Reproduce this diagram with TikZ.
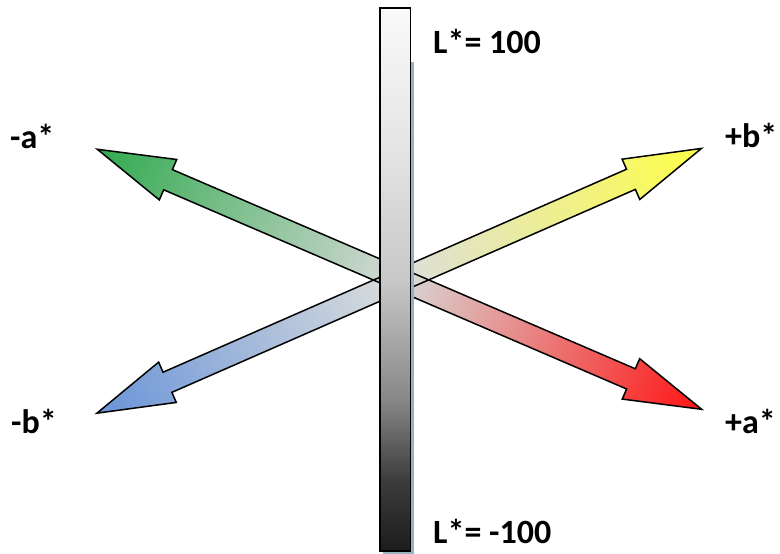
\documentclass[tikz,border=0pt]{standalone}
\usepackage{fontspec}
\setmainfont{Carlito}
\definecolor{cgreen}{RGB}{50,170,80}
\definecolor{cred}{RGB}{255,20,20}
\definecolor{cyellow}{RGB}{255,255,40}
\definecolor{cblue}{RGB}{80,130,210}
\definecolor{cmid}{RGB}{215,217,215}
\definecolor{cshadow}{RGB}{150,180,192}
\definecolor{cbartop}{RGB}{250,250,250}
\definecolor{cbar150}{RGB}{228,228,228}
\definecolor{cbarmid}{RGB}{200,200,200}
\definecolor{cbar400}{RGB}{135,135,135}
\definecolor{cbar480}{RGB}{60,60,60}
\definecolor{cbarbot}{RGB}{28,28,28}
\pgfdeclareverticalshading{barshade}{100bp}{%
  color(0bp)=(cbarbot); color(25bp)=(cbarbot); color(31.5bp)=(cbar480);
  color(38.9bp)=(cbar400); color(50bp)=(cbarmid); color(61.9bp)=(cbar150);
  color(75bp)=(cbartop); color(100bp)=(cbartop)}
\begin{document}
\begin{tikzpicture}[x=1pt,y=-1pt,
  lab/.style={inner sep=0pt, anchor=base west, font=\fontsize{34}{40}\selectfont\bfseries},
  arrowline/.style={draw=black, line width=1.5pt, line join=miter}]
\useasboundingbox (0,0) rectangle (780,554);
\fill[white] (0,0) rectangle (780,554);
% arrow 1: green to red
\begin{scope}[transform canvas={shift={(399.5,279.3)}, rotate=-23.28}]
  \path[left color=cgreen, right color=cred, middle color=cmid]
    (-329,0) -- (-252,22) -- (-252,11) -- (252,11) -- (252,22) -- (329,0)
    -- (252,-22) -- (252,-11) -- (-252,-11) -- (-252,-22) -- cycle;
\end{scope}
% arrow 2: blue to yellow
\begin{scope}[transform canvas={shift={(399.2,280.8)}, rotate=23.65}]
  \path[left color=cblue, right color=cyellow, middle color=cmid, fill opacity=0.85]
    (-330,0) -- (-253,22) -- (-253,11) -- (253,11) -- (253,22) -- (330,0)
    -- (253,-22) -- (253,-11) -- (-253,-11) -- (-253,-22) -- cycle;
\end{scope}
% outlines
\begin{scope}[transform canvas={shift={(399.5,279.3)}, rotate=-23.28}]
  \path[arrowline]
    (-329,0) -- (-252,22) -- (-252,11) -- (252,11) -- (252,22) -- (329,0)
    -- (252,-22) -- (252,-11) -- (-252,-11) -- (-252,-22) -- cycle;
\end{scope}
\begin{scope}[transform canvas={shift={(399.2,280.8)}, rotate=23.65}]
  \path[arrowline]
    (-330,0) -- (-253,22) -- (-253,11) -- (253,11) -- (253,22) -- (330,0)
    -- (253,-22) -- (253,-11) -- (-253,-11) -- (-253,-22) -- cycle;
\end{scope}
% bar shadow
\fill[cshadow] (410,62) rectangle (414,554);
\fill[cshadow] (383,551) rectangle (414,554);
% bar
\path[shading=barshade, draw=black, line width=1.1pt]
  (380,8) rectangle (410.5,551);
% labels
\node[lab] (ltop) at (433,53) {L*= 100};
\node[lab] (lbot) at (433,543) {L*= -100};
\node[lab] (ma) at (10,148) {-a*};
\node[lab] (pb) at (725,147) {+b*};
\node[lab] (mb) at (11,433) {-b*};
\node[lab] (pa) at (725,433) {+a*};
\end{tikzpicture}
\end{document}
